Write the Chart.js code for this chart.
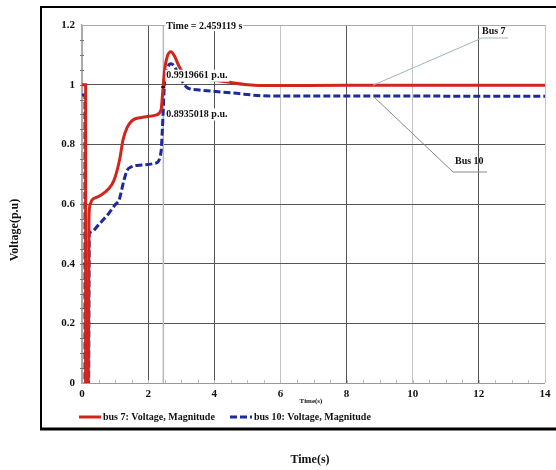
<!DOCTYPE html>
<html>
<head>
<meta charset="utf-8">
<script src="https://cdn.jsdelivr.net/npm/chart.js@4/dist/chart.umd.min.js"></script>
<style>
  html, body { margin: 0; padding: 0; background: #fff; }
  #wrap { width: 556px; height: 470px; position: relative; }
</style>
</head>
<body>
<div id="wrap"><canvas id="grafico-voltaje" width="556" height="470"></canvas></div>
<script>
// datos
const bus7Tiempo = [0, 0.11, 0.11, 0.19, 0.21, 0.25, 0.3, 0.5, 0.8, 0.97, 1.14, 1.24, 1.37, 1.52, 1.8, 2.23, 2.39, 2.43, 2.5, 2.58, 2.69, 2.8, 2.94, 3.14, 3.6, 4.35, 5.0, 5.7, 8, 10, 12, 14];
const bus7Voltaje = [1.0, 1.0, 0, 0, 0.55, 0.6, 0.613, 0.625, 0.65, 0.68, 0.75, 0.815, 0.858, 0.88, 0.89, 0.898, 0.915, 0.96, 1.05, 1.095, 1.11, 1.095, 1.06, 1.03, 1.02, 1.01, 1.0, 0.997, 0.998, 0.998, 0.998, 0.998];

const bus10Tiempo = [0, 0.09, 0.09, 0.2, 0.22, 0.27, 0.5, 0.82, 1.02, 1.12, 1.27, 1.37, 1.5, 1.73, 2.23, 2.39, 2.43, 2.5, 2.58, 2.69, 2.8, 2.94, 3.18, 3.55, 4.55, 5.67, 8, 10, 12, 14];
const bus10Voltaje = [0.965, 0.965, 0, 0, 0.5, 0.506, 0.53, 0.57, 0.6, 0.613, 0.68, 0.714, 0.725, 0.73, 0.737, 0.775, 0.85, 1.015, 1.055, 1.07, 1.06, 1.03, 0.99, 0.982, 0.972, 0.962, 0.962, 0.962, 0.961, 0.961];

const ticksX = [0, 2, 4, 6, 8, 10, 12, 14];
const ticksY = [0, 0.2, 0.4, 0.6, 0.8, 1, 1.2];
const tiempoCursor = 2.459119;
const etiquetasCursor = ['0.9919661 p.u.', '0.8935018 p.u.'];

const fuente = '"Liberation Serif", "DejaVu Serif", serif';

function puntos(xs, ys) {
    return xs.map((x, i) => ({ x: x, y: ys[i] }));
}

// lineas gris oscuro / gris claro de la cuadricula
function colorGridX(v) {
    if (v === 0) return '#aaaaaa';
    return (v === 6 || v === 10 || v === 14) ? '#c4c4c4' : '#555555';
}

const decoraciones = {
    id: 'decoraciones',
    beforeDraw(chart) {
        const c = chart.ctx;
        c.save();
        c.fillStyle = '#fff';
        c.fillRect(0, 0, chart.width, chart.height);
        c.restore();
    },
    beforeDatasetsDraw(chart) {
        const c = chart.ctx;
        const sx = chart.scales.x, sy = chart.scales.y;
        c.save();
        // cursor
        const xc = sx.getPixelForValue(tiempoCursor);
        c.strokeStyle = '#b8b8b8';
        c.lineWidth = 1.5;
        c.beginPath();
        c.moveTo(xc, sy.top);
        c.lineTo(xc, sy.bottom);
        c.stroke();
        // marcas menores
        c.strokeStyle = '#777';
        c.lineWidth = 1;
        for (let v = 0.05; v < 1.2; v += 0.05) {
            const y = Math.round(sy.getPixelForValue(v)) + 0.5;
            c.beginPath();
            c.moveTo(sx.left - 2, y);
            c.lineTo(sx.left + 2, y);
            c.stroke();
        }
        c.strokeStyle = '#bbb';
        for (let v = 0.5; v < 14; v += 0.5) {
            const x = Math.round(sx.getPixelForValue(v)) + 0.5;
            c.beginPath();
            c.moveTo(x, sy.bottom);
            c.lineTo(x, sy.bottom - 3);
            c.stroke();
        }
        c.restore();
    },
    afterDatasetsDraw(chart) {
        const c = chart.ctx;
        const sx = chart.scales.x, sy = chart.scales.y;
        const xc = sx.getPixelForValue(tiempoCursor);
        c.save();
        c.font = 'bold 10px ' + fuente;
        c.textBaseline = 'middle';

        // etiqueta del cursor
        const tTxt = 'Time = 2.459119 s';
        const wT = c.measureText(tTxt).width;
        c.fillStyle = '#fff';
        c.fillRect(xc + 2, sy.top - 5, wT + 2, 11);
        c.fillStyle = '#111';
        c.fillText(tTxt, xc + 3, sy.top + 1);

        // valores en el cursor
        const y1 = sy.getPixelForValue(1.03);
        const y2 = sy.getPixelForValue(0.9);
        [[etiquetasCursor[0], y1], [etiquetasCursor[1], y2]].forEach(([t, y]) => {
            const w = c.measureText(t).width;
            c.fillStyle = '#fff';
            c.fillRect(xc + 2, y - 6, w + 3, 12);
            c.fillStyle = '#111';
            c.fillText(t, xc + 3, y);
        });
        c.fillStyle = '#111';
        c.fillRect(xc - 2, sy.getPixelForValue(0.992) - 1, 4, 2);

        // anotaciones Bus 7 / Bus 10
        const xa = sx.getPixelForValue(8.8);
        c.strokeStyle = '#9fb3c0';
        c.lineWidth = 1;
        c.beginPath();
        c.moveTo(xa, sy.getPixelForValue(0.998));
        c.lineTo(482, 38);
        c.lineTo(508, 38);
        c.stroke();
        c.strokeStyle = '#888';
        c.beginPath();
        c.moveTo(xa, sy.getPixelForValue(0.962));
        c.lineTo(453, 172);
        c.lineTo(487, 172);
        c.stroke();
        c.fillStyle = '#111';
        c.font = 'bold 10px ' + fuente;
        c.fillText('Bus 7', 482, 31);
        c.fillText('Bus 10', 455, 161);

        // titulo pequeño del eje x
        c.font = 'bold 7px ' + fuente;
        c.textAlign = 'center';
        c.fillText('Time(s)', 311, 401);

        // leyenda
        c.textAlign = 'left';
        c.font = 'bold 10px ' + fuente;
        chart.data.datasets.forEach((ds, i) => {
            const x0 = i === 0 ? 79 : 230;
            c.strokeStyle = ds.borderColor;
            c.lineWidth = 3;
            c.setLineDash(ds.borderDash || []);
            c.beginPath();
            c.moveTo(x0, 417);
            c.lineTo(x0 + 22, 417);
            c.stroke();
            c.setLineDash([]);
            c.fillStyle = '#111';
            c.fillText(ds.label, x0 + 24, 417);
        });

        // marco exterior
        c.strokeStyle = '#000';
        c.lineWidth = 2;
        c.strokeRect(41, 7, 540, 422);
        c.lineWidth = 3;
        c.beginPath();
        c.moveTo(40, 429);
        c.lineTo(556, 429);
        c.stroke();

        // titulos de los ejes
        c.font = 'bold 12px ' + fuente;
        c.textAlign = 'center';
        c.fillText('Time(s)', 310, 460);
        c.translate(15, 230);
        c.rotate(-Math.PI / 2);
        c.fillText('Voltage(p.u)', 0, 0);
        c.restore();
    }
};

const ctx = document.getElementById('grafico-voltaje').getContext('2d');
new Chart(ctx, {
    type: 'line',
    data: {
        datasets: [{
            label: 'bus 7: Voltage, Magnitude',
            data: puntos(bus7Tiempo, bus7Voltaje),
            borderColor: '#d0261c',
            borderWidth: 3,
            pointRadius: 0,
            cubicInterpolationMode: 'monotone',
            fill: false
        }, {
            label: 'bus 10: Voltage, Magnitude',
            data: puntos(bus10Tiempo, bus10Voltaje),
            borderColor: '#1c2a9c',
            borderWidth: 3,
            borderDash: [7, 3],
            pointRadius: 0,
            cubicInterpolationMode: 'monotone',
            fill: false
        }]
    },
    options: {
        responsive: false,
        maintainAspectRatio: false,
        animation: false,
        layout: { padding: { left: 40, right: 11, top: 25, bottom: 67 } },
        plugins: {
            legend: { display: false },
            tooltip: { enabled: false }
        },
        scales: {
            x: {
                type: 'linear',
                min: 0,
                max: 14,
                afterFit: s => { s.height = 20; },
                afterBuildTicks: s => { s.ticks = ticksX.map(v => ({ value: v })); },
                grid: {
                    color: c => colorGridX(c.tick.value),
                    lineWidth: 1,
                    drawTicks: false
                },
                border: { display: false },
                ticks: {
                    color: '#111',
                    padding: 5,
                    font: { family: fuente, size: 11, weight: 'bold' }
                }
            },
            y: {
                min: 0,
                max: 1.2,
                afterFit: s => { s.width = 42; },
                afterBuildTicks: s => { s.ticks = ticksY.map(v => ({ value: v })); },
                grid: {
                    color: c => (c.tick.value === 0 ? '#999' : (c.tick.value === 1.2 ? '#aaa' : '#555')),
                    lineWidth: 1,
                    drawTicks: false
                },
                border: { display: true, color: '#aaa', width: 1.5 },
                ticks: {
                    color: '#111',
                    padding: 7,
                    font: { family: fuente, size: 11, weight: 'bold' },
                    callback: v => String(Math.round(v * 10) / 10)
                }
            }
        }
    },
    plugins: [decoraciones]
});
</script>
</body>
</html>
